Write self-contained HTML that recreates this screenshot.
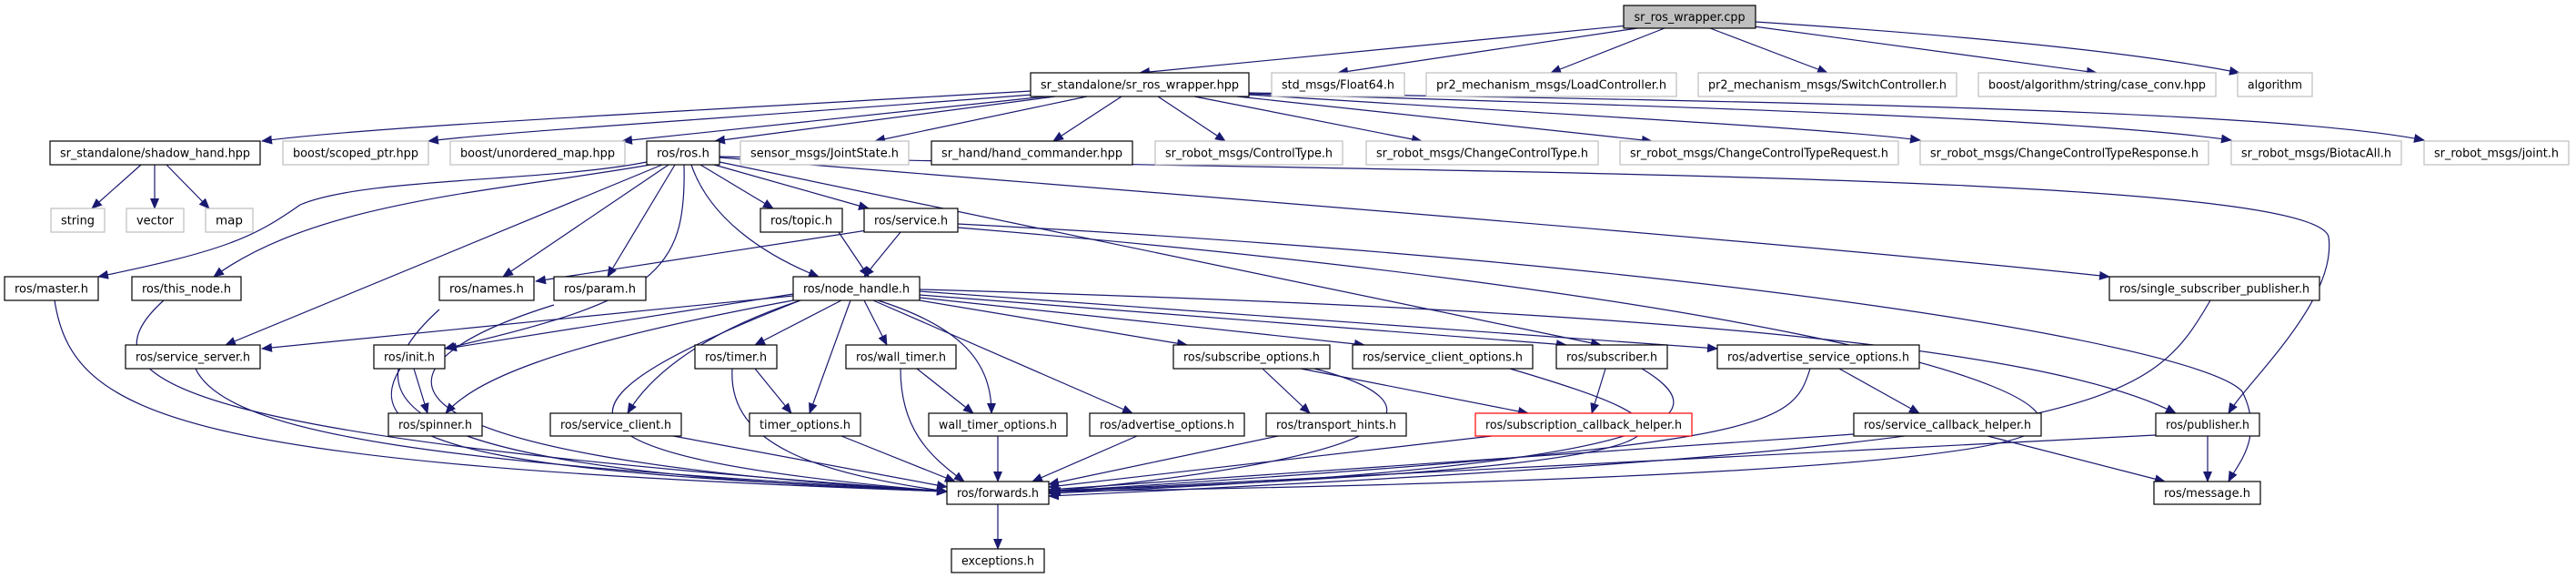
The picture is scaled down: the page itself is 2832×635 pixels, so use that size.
<!DOCTYPE html>
<html><head><meta charset="utf-8"><style>
html,body{margin:0;padding:0;background:#fff;}
svg{display:block;}
text{font-family:"DejaVu Sans Condensed","DejaVu Sans","Liberation Sans",sans-serif;font-size:13px;fill:#000;}
.e{fill:none;stroke:#191970;stroke-width:1.2;marker-end:url(#a);}
.b{fill:#fff;stroke:#000;stroke-width:1.2;}
.g{fill:#fff;stroke:#bfbfbf;stroke-width:1.2;}
.r{fill:#fff;stroke:#ff0000;stroke-width:1.2;}
.sh{fill:#555;}
</style></head><body>
<svg width="2832" height="635" viewBox="0 0 2832 635" xmlns="http://www.w3.org/2000/svg">
<defs><marker id="a" markerUnits="userSpaceOnUse" markerWidth="12" markerHeight="10" refX="11" refY="5" orient="auto"><path d="M0,0 L12,5 L0,10 z" fill="#191970"/></marker></defs>
<g>
<path class="e" d="M1790,28 L1253,80"/>
<path class="e" d="M1800,31 L1471,80"/>
<path class="e" d="M1830,31 L1705,80"/>
<path class="e" d="M1880,31 L2009,80"/>
<path class="e" d="M1928,29 L2305,80"/>
<path class="e" d="M1930,24 Q2300,48 2462,80"/>
<path class="e" d="M1133,100 C700,125 400,140 288,155"/>
<path class="e" d="M1135,104 C800,130 550,145 471,155"/>
<path class="e" d="M1150,106 L684,155"/>
<path class="e" d="M1160,106 L786,155"/>
<path class="e" d="M1195,106 L962,155"/>
<path class="e" d="M1233,106 L1158,155"/>
<path class="e" d="M1273,106 L1347,155"/>
<path class="e" d="M1313,106 L1563,155"/>
<path class="e" d="M1360,106 L1816,155"/>
<path class="e" d="M1373,104 C1700,125 2000,140 2111,154"/>
<path class="e" d="M1373,103 C1900,118 2300,132 2453,154"/>
<path class="e" d="M1373,102 C2000,112 2500,122 2665,154"/>
<path class="e" d="M155,181 L101,229"/>
<path class="e" d="M170,181 L170,229"/>
<path class="e" d="M183,181 L230,229"/>
<path class="e" d="M711,178 C600,200 400,195 330,225 C280,260 250,275 108,304"/>
<path class="e" d="M715,181 C550,210 350,220 235,304"/>
<path class="e" d="M735,181 L553,304"/>
<path class="e" d="M742,181 L668,304"/>
<path class="e" d="M760,181 C780,240 840,280 900,304"/>
<path class="e" d="M770,181 L850,229"/>
<path class="e" d="M785,181 L955,229"/>
<path class="e" d="M728,181 L248,379"/>
<path class="e" d="M752,181 C755,300 720,330 489,383"/>
<path class="e" d="M791,178 L1760,379"/>
<path class="e" d="M791,173 C1500,230 2000,270 2319,304"/>
<path class="e" d="M791,172 C1600,190 2540,190 2560,260 C2570,330 2470,420 2450,454"/>
<path class="e" d="M1053,246 C1900,290 2420,380 2465,430 C2490,480 2460,510 2450,529"/>
<path class="e" d="M960,252 L589,309"/>
<path class="e" d="M990,255 L950,304"/>
<path class="e" d="M1053,250 C1900,320 2280,420 2240,470 C2200,520 1500,535 1155,540"/>
<path class="e" d="M922,255 L955,304"/>
<path class="e" d="M880,330 C600,440 560,500 1041,540"/>
<path class="e" d="M872,325 L288,383"/>
<path class="e" d="M872,323 L491,383"/>
<path class="e" d="M872,330 C600,380 520,420 490,454"/>
<path class="e" d="M925,330 L830,379"/>
<path class="e" d="M935,330 L890,454"/>
<path class="e" d="M950,330 L975,379"/>
<path class="e" d="M965,330 C1060,360 1090,400 1090,454"/>
<path class="e" d="M880,330 C760,370 710,420 690,454"/>
<path class="e" d="M960,330 L1245,454"/>
<path class="e" d="M1011,330 L1305,379"/>
<path class="e" d="M1011,327 L1500,379"/>
<path class="e" d="M1011,324 L1722,379"/>
<path class="e" d="M1011,320 L1888,383"/>
<path class="e" d="M1011,318 C1800,340 2250,380 2392,454"/>
<path class="e" d="M60,330 C80,460 200,510 1041,540"/>
<path class="e" d="M180,330 C80,420 200,480 1041,540"/>
<path class="e" d="M483,340 C350,460 500,520 1041,540"/>
<path class="e" d="M609,335 C400,400 360,500 1041,540"/>
<path class="e" d="M215,405 C250,480 500,510 1041,540"/>
<path class="e" d="M440,405 C380,500 600,520 1041,540"/>
<path class="e" d="M805,405 C800,490 900,520 1041,540"/>
<path class="e" d="M740,479 L1041,535"/>
<path class="e" d="M925,479 L1050,529"/>
<path class="e" d="M990,405 C990,470 1020,500 1060,529"/>
<path class="e" d="M1097,479 L1097,529"/>
<path class="e" d="M1250,479 L1135,529"/>
<path class="e" d="M1405,479 L1153,532"/>
<path class="e" d="M1640,479 L1153,535"/>
<path class="e" d="M1445,405 C1580,440 1580,500 1153,540"/>
<path class="e" d="M1660,405 C1880,470 1950,510 1153,540"/>
<path class="e" d="M1805,405 C1880,450 1900,510 1153,542"/>
<path class="e" d="M1990,405 C1970,470 1950,490 1153,540"/>
<path class="e" d="M2038,477 L1153,538"/>
<path class="e" d="M2370,478 L1153,540"/>
<path class="e" d="M2430,330 C2360,450 2320,490 1153,545"/>
<path class="e" d="M455,405 L470,454"/>
<path class="e" d="M830,405 L870,454"/>
<path class="e" d="M1008,405 L1070,454"/>
<path class="e" d="M1388,405 L1440,454"/>
<path class="e" d="M1430,405 L1680,454"/>
<path class="e" d="M1765,405 L1750,454"/>
<path class="e" d="M2022,405 L2110,454"/>
<path class="e" d="M2185,479 L2380,529"/>
<path class="e" d="M2427,479 L2427,529"/>
<path class="e" d="M1097,554 L1097,603"/>
</g>
<g>
<rect x="1785" y="6" width="145" height="25" fill="#bfbfbf" stroke="#000" stroke-width="1.2"/><text x="1857.5" y="23" text-anchor="middle" textLength="122" lengthAdjust="spacingAndGlyphs">sr_ros_wrapper.cpp</text>
<rect class="b" x="1133" y="80" width="240" height="26"/><text x="1253" y="97.5" text-anchor="middle" textLength="218" lengthAdjust="spacingAndGlyphs">sr_standalone/sr_ros_wrapper.hpp</text>
<rect class="g" x="1398" y="80" width="146" height="26"/><text x="1471" y="97.5" text-anchor="middle" textLength="124" lengthAdjust="spacingAndGlyphs">std_msgs/Float64.h</text>
<rect class="g" x="1568" y="80" width="275" height="26"/><text x="1705.5" y="97.5" text-anchor="middle" textLength="253" lengthAdjust="spacingAndGlyphs">pr2_mechanism_msgs/LoadController.h</text>
<rect class="g" x="1867" y="80" width="284" height="26"/><text x="2009" y="97.5" text-anchor="middle" textLength="262" lengthAdjust="spacingAndGlyphs">pr2_mechanism_msgs/SwitchController.h</text>
<rect class="g" x="2175" y="80" width="261" height="26"/><text x="2305.5" y="97.5" text-anchor="middle" textLength="239" lengthAdjust="spacingAndGlyphs">boost/algorithm/string/case_conv.hpp</text>
<rect class="g" x="2460" y="80" width="82" height="26"/><text x="2501" y="97.5" text-anchor="middle" textLength="60" lengthAdjust="spacingAndGlyphs">algorithm</text>

<rect class="b" x="55" y="155" width="231" height="26"/><text x="170.5" y="172.5" text-anchor="middle" textLength="209" lengthAdjust="spacingAndGlyphs">sr_standalone/shadow_hand.hpp</text>
<rect class="g" x="311" y="155" width="160" height="26"/><text x="391" y="172.5" text-anchor="middle" textLength="138" lengthAdjust="spacingAndGlyphs">boost/scoped_ptr.hpp</text>
<rect class="g" x="495" y="155" width="192" height="26"/><text x="591" y="172.5" text-anchor="middle" textLength="170" lengthAdjust="spacingAndGlyphs">boost/unordered_map.hpp</text>
<rect class="b" x="711" y="155" width="80" height="26"/><text x="751" y="172.5" text-anchor="middle" textLength="58" lengthAdjust="spacingAndGlyphs">ros/ros.h</text>
<rect class="g" x="814" y="155" width="185" height="26"/><text x="906.5" y="172.5" text-anchor="middle" textLength="163" lengthAdjust="spacingAndGlyphs">sensor_msgs/JointState.h</text>
<rect class="b" x="1024" y="155" width="221" height="26"/><text x="1134.5" y="172.5" text-anchor="middle" textLength="199" lengthAdjust="spacingAndGlyphs">sr_hand/hand_commander.hpp</text>
<rect class="g" x="1270" y="155" width="206" height="26"/><text x="1373" y="172.5" text-anchor="middle" textLength="184" lengthAdjust="spacingAndGlyphs">sr_robot_msgs/ControlType.h</text>
<rect class="g" x="1502" y="155" width="255" height="26"/><text x="1629.5" y="172.5" text-anchor="middle" textLength="233" lengthAdjust="spacingAndGlyphs">sr_robot_msgs/ChangeControlType.h</text>
<rect class="g" x="1781" y="155" width="306" height="26"/><text x="1934" y="172.5" text-anchor="middle" textLength="284" lengthAdjust="spacingAndGlyphs">sr_robot_msgs/ChangeControlTypeRequest.h</text>
<rect class="g" x="2111" y="155" width="317" height="26"/><text x="2269.5" y="172.5" text-anchor="middle" textLength="295" lengthAdjust="spacingAndGlyphs">sr_robot_msgs/ChangeControlTypeResponse.h</text>
<rect class="g" x="2453" y="155" width="187" height="26"/><text x="2546.5" y="172.5" text-anchor="middle" textLength="165" lengthAdjust="spacingAndGlyphs">sr_robot_msgs/BiotacAll.h</text>
<rect class="g" x="2665" y="155" width="159" height="26"/><text x="2744.5" y="172.5" text-anchor="middle" textLength="137" lengthAdjust="spacingAndGlyphs">sr_robot_msgs/joint.h</text>

<rect class="g" x="56" y="229" width="59" height="26"/><text x="85.5" y="246.5" text-anchor="middle" textLength="37" lengthAdjust="spacingAndGlyphs">string</text>
<rect class="g" x="139" y="229" width="63" height="26"/><text x="170.5" y="246.5" text-anchor="middle" textLength="41" lengthAdjust="spacingAndGlyphs">vector</text>
<rect class="g" x="226" y="229" width="52" height="26"/><text x="252" y="246.5" text-anchor="middle" textLength="30" lengthAdjust="spacingAndGlyphs">map</text>
<rect class="b" x="836" y="229" width="90" height="26"/><text x="881" y="246.5" text-anchor="middle" textLength="68" lengthAdjust="spacingAndGlyphs">ros/topic.h</text>
<rect class="b" x="950" y="229" width="103" height="26"/><text x="1001.5" y="246.5" text-anchor="middle" textLength="81" lengthAdjust="spacingAndGlyphs">ros/service.h</text>

<rect class="b" x="5" y="304" width="103" height="26"/><text x="56.5" y="321.5" text-anchor="middle" textLength="81" lengthAdjust="spacingAndGlyphs">ros/master.h</text>
<rect class="b" x="145" y="304" width="120" height="26"/><text x="205" y="321.5" text-anchor="middle" textLength="98" lengthAdjust="spacingAndGlyphs">ros/this_node.h</text>
<rect class="b" x="483" y="304" width="104" height="26"/><text x="535" y="321.5" text-anchor="middle" textLength="82" lengthAdjust="spacingAndGlyphs">ros/names.h</text>
<rect class="b" x="609" y="304" width="101" height="26"/><text x="659.5" y="321.5" text-anchor="middle" textLength="79" lengthAdjust="spacingAndGlyphs">ros/param.h</text>
<rect class="b" x="872" y="304" width="139" height="26"/><text x="941.5" y="321.5" text-anchor="middle" textLength="117" lengthAdjust="spacingAndGlyphs">ros/node_handle.h</text>
<rect class="b" x="2319" y="304" width="231" height="26"/><text x="2434.5" y="321.5" text-anchor="middle" textLength="209" lengthAdjust="spacingAndGlyphs">ros/single_subscriber_publisher.h</text>

<rect class="b" x="138" y="379" width="148" height="26"/><text x="212" y="396.5" text-anchor="middle" textLength="126" lengthAdjust="spacingAndGlyphs">ros/service_server.h</text>
<rect class="b" x="411" y="379" width="78" height="26"/><text x="450" y="396.5" text-anchor="middle" textLength="56" lengthAdjust="spacingAndGlyphs">ros/init.h</text>
<rect class="b" x="764" y="379" width="90" height="26"/><text x="809" y="396.5" text-anchor="middle" textLength="68" lengthAdjust="spacingAndGlyphs">ros/timer.h</text>
<rect class="b" x="930" y="379" width="121" height="26"/><text x="990.5" y="396.5" text-anchor="middle" textLength="99" lengthAdjust="spacingAndGlyphs">ros/wall_timer.h</text>
<rect class="b" x="1290" y="379" width="172" height="26"/><text x="1376" y="396.5" text-anchor="middle" textLength="150" lengthAdjust="spacingAndGlyphs">ros/subscribe_options.h</text>
<rect class="b" x="1487" y="379" width="198" height="26"/><text x="1586" y="396.5" text-anchor="middle" textLength="176" lengthAdjust="spacingAndGlyphs">ros/service_client_options.h</text>
<rect class="b" x="1711" y="379" width="122" height="26"/><text x="1772" y="396.5" text-anchor="middle" textLength="100" lengthAdjust="spacingAndGlyphs">ros/subscriber.h</text>
<rect class="b" x="1888" y="379" width="222" height="26"/><text x="1999" y="396.5" text-anchor="middle" textLength="200" lengthAdjust="spacingAndGlyphs">ros/advertise_service_options.h</text>

<rect class="b" x="427" y="454" width="103" height="25"/><text x="478.5" y="471" text-anchor="middle" textLength="81" lengthAdjust="spacingAndGlyphs">ros/spinner.h</text>
<rect class="b" x="605" y="454" width="144" height="25"/><text x="677" y="471" text-anchor="middle" textLength="122" lengthAdjust="spacingAndGlyphs">ros/service_client.h</text>
<rect class="b" x="824" y="454" width="122" height="25"/><text x="885" y="471" text-anchor="middle" textLength="100" lengthAdjust="spacingAndGlyphs">timer_options.h</text>
<rect class="b" x="1021" y="454" width="152" height="25"/><text x="1097" y="471" text-anchor="middle" textLength="130" lengthAdjust="spacingAndGlyphs">wall_timer_options.h</text>
<rect class="b" x="1198" y="454" width="170" height="25"/><text x="1283" y="471" text-anchor="middle" textLength="148" lengthAdjust="spacingAndGlyphs">ros/advertise_options.h</text>
<rect class="b" x="1392" y="454" width="154" height="25"/><text x="1469" y="471" text-anchor="middle" textLength="132" lengthAdjust="spacingAndGlyphs">ros/transport_hints.h</text>
<rect class="r" x="1622" y="454" width="238" height="25"/><text x="1741" y="471" text-anchor="middle" textLength="216" lengthAdjust="spacingAndGlyphs">ros/subscription_callback_helper.h</text>
<rect class="b" x="2038" y="454" width="206" height="25"/><text x="2141" y="471" text-anchor="middle" textLength="184" lengthAdjust="spacingAndGlyphs">ros/service_callback_helper.h</text>
<rect class="b" x="2370" y="454" width="114" height="25"/><text x="2427" y="471" text-anchor="middle" textLength="92" lengthAdjust="spacingAndGlyphs">ros/publisher.h</text>

<rect class="b" x="1041" y="529" width="112" height="25"/><text x="1097" y="546" text-anchor="middle" textLength="90" lengthAdjust="spacingAndGlyphs">ros/forwards.h</text>
<rect class="b" x="2368" y="529" width="117" height="25"/><text x="2426.5" y="546" text-anchor="middle" textLength="95" lengthAdjust="spacingAndGlyphs">ros/message.h</text>
<rect class="b" x="1046" y="603" width="102" height="26"/><text x="1097" y="620.5" text-anchor="middle" textLength="80" lengthAdjust="spacingAndGlyphs">exceptions.h</text>
</g>
</svg>
</body></html>
